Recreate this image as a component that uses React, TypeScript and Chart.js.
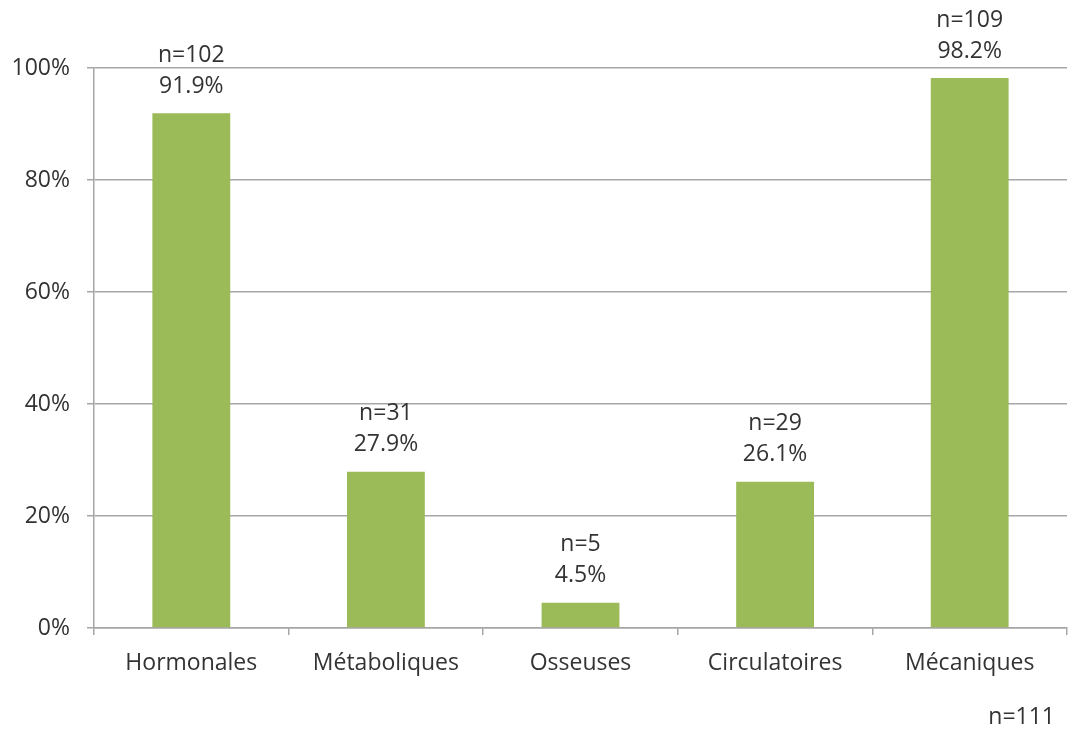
import React, { useEffect, useRef } from "react";
import { Chart, registerables } from "chart.js";

Chart.register(...registerables);

const categories = ["Hormonales", "Métaboliques", "Osseuses", "Circulatoires", "Mécaniques"];
const percentages = [91.9, 27.9, 4.5, 26.1, 98.2];
const counts = [102, 31, 5, 29, 109];
const yTicks = [0, 20, 40, 60, 80, 100];
const totalLabel = "n=111";

const FONT = "'Open Sans', sans-serif";
const TEXT = "#333333";
const GRID = "#a6a6a6";
const SIZE = 23;

const labelPlugin = {
  id: "barLabels",
  afterDatasetsDraw(chart: any) {
    const ctx = chart.ctx;
    const meta = chart.getDatasetMeta(0);
    ctx.save();
    ctx.fillStyle = TEXT;
    ctx.font = `${SIZE}px ${FONT}`;
    ctx.textAlign = "center";
    ctx.textBaseline = "middle";
    meta.data.forEach((bar: any, i: number) => {
      ctx.fillText(`${percentages[i].toFixed(1)}%`, bar.x, bar.y - 27);
      ctx.fillText(`n=${counts[i]}`, bar.x, bar.y - 58);
    });
    ctx.restore();
  },
};

export default function App() {
  const ref = useRef<HTMLCanvasElement>(null);
  useEffect(() => {
    const chart = new Chart(ref.current!, {
      type: "bar",
      data: {
        labels: categories,
        datasets: [
          {
            data: percentages,
            backgroundColor: "#9bbb59",
            barPercentage: 0.4,
            categoryPercentage: 1,
          },
        ],
      },
      options: {
        animation: false,
        responsive: false,
        maintainAspectRatio: false,
        layout: { padding: { left: 0, right: 11, top: 68, bottom: 0 } },
        plugins: { legend: { display: false }, tooltip: { enabled: false } },
        scales: {
          x: {
            offset: true,
            grid: {
              offset: true,
              drawOnChartArea: false,
              drawTicks: true,
              tickLength: 7,
              color: GRID,
              lineWidth: 1.5,
            },
            border: { color: GRID, width: 1.5 },
            ticks: { color: TEXT, font: { family: FONT, size: SIZE }, padding: 15, maxRotation: 0 },
            afterFit: (s: any) => {
              s.height = 103;
            },
          },
          y: {
            min: 0,
            max: 100,
            afterBuildTicks: (s: any) => {
              s.ticks = yTicks.map((v) => ({ value: v }));
            },
            grid: { color: GRID, lineWidth: 1.5, tickLength: 7 },
            border: { color: GRID, width: 1.5 },
            ticks: {
              color: TEXT,
              font: { family: FONT, size: SIZE },
              padding: 17,
              callback: (v: any) => `${v}%`,
            },
            afterFit: (s: any) => {
              s.width = 94;
            },
          },
        },
      },
      plugins: [labelPlugin],
    });
    return () => chart.destroy();
  }, []);
  return (
    <div style={{ position: "fixed", left: 0, top: 0, width: 1078, height: 731, background: "#fff" }}>
      <canvas ref={ref} width={1078} height={731} style={{ display: "block" }} />
      <div
        style={{
          position: "absolute",
          right: 23,
          top: 699,
          fontFamily: FONT,
          fontSize: SIZE,
          color: TEXT,
          lineHeight: "32px",
        }}
      >
        {totalLabel}
      </div>
    </div>
  );
}
